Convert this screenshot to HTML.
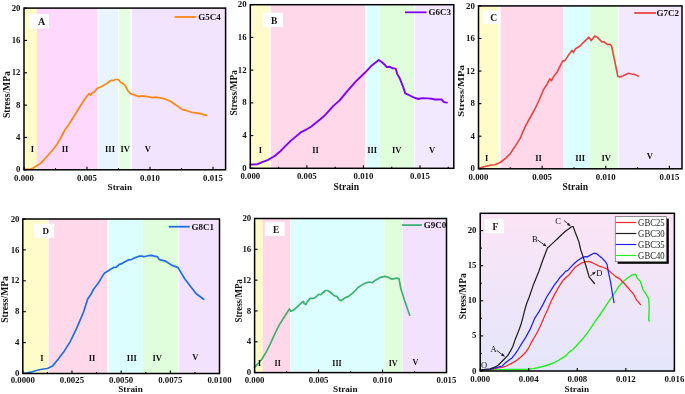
<!DOCTYPE html>
<html><head><meta charset="utf-8"><style>
html,body{margin:0;padding:0;background:#fff;}
body{width:685px;height:394px;overflow:hidden;}
svg{display:block;will-change:transform;}
</style></head><body>
<svg width="685" height="394" viewBox="0 0 685 394">
<rect width="685" height="394" fill="#fff"/>
<rect x="24.0" y="8.1" width="12.90" height="161.70" fill="#FFFCCA"/><rect x="36.9" y="8.1" width="60.80" height="161.70" fill="#FED9FD"/><rect x="98.5" y="8.1" width="19.60" height="161.70" fill="#E8F5FC"/><rect x="119.3" y="8.1" width="11.00" height="161.70" fill="#E4FDE3"/><rect x="131.9" y="8.1" width="93.70" height="161.70" fill="#F3E4FE"/><rect x="28.6" y="14.1" width="20.4" height="14.500000000000002" fill="#fff"/><text x="41.5" y="25.0" text-anchor="middle" font-family='"Liberation Serif", serif' font-weight="bold" font-size="10" fill="#111" >A</text><polyline points="24.1,169.4 29.5,169.2 32.7,168.2 35.9,166.2 40.1,163.6 44.4,159.3 48.7,154.5 52.9,149.7 57.2,143.9 60.4,138.5 63.0,133.5 65.1,129.6 68.9,124.4 72.7,118.3 76.5,112.3 80.3,106.0 84.1,100.2 87.3,95.8 89.2,93.6 90.5,95.2 92.4,92.4 93.7,92.6 96.2,89.4 97.3,88.3 99.6,87.4 102.6,86.0 105.7,84.1 107.6,83.0 109.9,81.0 112.1,80.3 113.3,80.5 115.6,79.5 117.9,79.5 119.0,80.3 120.5,82.2 122.4,83.3 124.7,84.9 126.2,87.5 127.8,90.6 130.0,93.2 132.3,94.5 135.0,95.1 139.0,96.6 142.1,95.9 147.4,96.6 152.7,97.7 155.8,97.1 161.1,98.2 165.7,99.2 170.3,101.2 176.3,105.3 182.4,109.6 187.0,110.7 191.6,112.3 199.2,113.4 206.5,115.4" fill="none" stroke="#FF8514" stroke-width="1.7" stroke-linejoin="round" stroke-linecap="round"/><text x="32.3" y="152.0" text-anchor="middle" font-family='"Liberation Serif", serif' font-weight="bold" font-size="8.5" fill="#111" >I</text><text x="65.0" y="152.0" text-anchor="middle" font-family='"Liberation Serif", serif' font-weight="bold" font-size="8.5" fill="#111" >II</text><text x="110.0" y="152.0" text-anchor="middle" font-family='"Liberation Serif", serif' font-weight="bold" font-size="8.5" fill="#111" >III</text><text x="125.3" y="152.0" text-anchor="middle" font-family='"Liberation Serif", serif' font-weight="bold" font-size="8.5" fill="#111" >IV</text><text x="147.8" y="152.0" text-anchor="middle" font-family='"Liberation Serif", serif' font-weight="bold" font-size="8.5" fill="#111" >V</text><line x1="174.6" y1="17.0" x2="196.2" y2="17.0" stroke="#FF8514" stroke-width="1.8"/><text x="198.3" y="20.1" text-anchor="start" font-family='"Liberation Serif", serif' font-weight="bold" font-size="9" fill="#111" >G5C4</text><g stroke="#000" stroke-width="1.1"><line x1="24.00" y1="169.8" x2="24.00" y2="166.80"/><line x1="87.00" y1="169.8" x2="87.00" y2="166.80"/><line x1="150.00" y1="169.8" x2="150.00" y2="166.80"/><line x1="213.00" y1="169.8" x2="213.00" y2="166.80"/><line x1="55.50" y1="169.8" x2="55.50" y2="168.20"/><line x1="118.50" y1="169.8" x2="118.50" y2="168.20"/><line x1="181.50" y1="169.8" x2="181.50" y2="168.20"/><line x1="24.0" y1="169.80" x2="27.00" y2="169.80"/><line x1="24.0" y1="137.46" x2="27.00" y2="137.46"/><line x1="24.0" y1="105.12" x2="27.00" y2="105.12"/><line x1="24.0" y1="72.78" x2="27.00" y2="72.78"/><line x1="24.0" y1="40.44" x2="27.00" y2="40.44"/><line x1="24.0" y1="8.10" x2="27.00" y2="8.10"/></g><rect x="24.0" y="8.1" width="201.60" height="161.70" fill="none" stroke="#000" stroke-width="1.5"/><g font-family='"Liberation Serif", serif' font-weight="bold" font-size="8.8" fill="#111"><text x="24.00" y="180.6" text-anchor="middle">0.000</text><text x="87.00" y="180.6" text-anchor="middle">0.005</text><text x="150.00" y="180.6" text-anchor="middle">0.010</text><text x="213.00" y="180.6" text-anchor="middle">0.015</text><text x="20.5" y="172.40" text-anchor="end">0</text><text x="20.5" y="140.06" text-anchor="end">4</text><text x="20.5" y="107.72" text-anchor="end">8</text><text x="20.5" y="75.38" text-anchor="end">12</text><text x="20.5" y="43.04" text-anchor="end">16</text><text x="20.5" y="10.70" text-anchor="end">20</text></g><text x="119.8" y="190.2" text-anchor="middle" font-family='"Liberation Serif", serif' font-weight="bold" font-size="9.2" fill="#111" >Strain</text><text x="0" y="0" transform="translate(7.0,94.6) rotate(-90)" text-anchor="middle" dominant-baseline="central" font-family='"Liberation Serif", serif' font-weight="bold" font-size="9.5" fill="#111" textLength="47.0" lengthAdjust="spacingAndGlyphs">Stress/MPa</text><rect x="250.3" y="4.7" width="18.90" height="163.60" fill="#FFFCCA"/><rect x="270.8" y="4.7" width="94.40" height="163.60" fill="#FFD9EA"/><rect x="366.6" y="4.7" width="13.30" height="163.60" fill="#DDFEFE"/><rect x="380.2" y="4.7" width="33.90" height="163.60" fill="#E0FDDC"/><rect x="415.2" y="4.7" width="38.60" height="163.60" fill="#F3E9FE"/><rect x="262.3" y="12.6" width="20.599999999999966" height="14.500000000000002" fill="#fff"/><text x="274.1" y="23.5" text-anchor="middle" font-family='"Liberation Serif", serif' font-weight="bold" font-size="9.5" fill="#111" >B</text><polyline points="250.3,164.5 256.9,164.4 262.2,162.2 267.6,160.1 274.7,156.0 280.0,151.6 285.3,146.2 290.7,140.9 296.0,136.4 301.3,132.0 306.7,129.3 311.1,126.7 315.6,123.1 320.0,119.6 323.6,116.6 326.4,113.7 333.1,106.1 339.7,100.4 346.4,92.2 355.9,81.4 364.8,72.8 372.1,65.2 378.8,59.9 382.2,62.5 384.5,64.5 386.8,67.1 389.8,66.8 392.8,68.3 395.6,68.6 397.1,73.6 399.7,78.2 402.7,85.8 405.3,93.4 409.6,95.4 414.9,98.0 418.7,99.0 421.8,98.1 427.9,98.4 431.7,98.7 434.7,99.5 441.6,99.5 443.9,102.1 446.9,102.6" fill="none" stroke="#7F00FA" stroke-width="1.9" stroke-linejoin="round" stroke-linecap="round"/><text x="260.3" y="152.8" text-anchor="middle" font-family='"Liberation Serif", serif' font-weight="bold" font-size="8.5" fill="#111" >I</text><text x="315.5" y="152.8" text-anchor="middle" font-family='"Liberation Serif", serif' font-weight="bold" font-size="8.5" fill="#111" >II</text><text x="372.2" y="152.8" text-anchor="middle" font-family='"Liberation Serif", serif' font-weight="bold" font-size="8.5" fill="#111" >III</text><text x="396.7" y="152.8" text-anchor="middle" font-family='"Liberation Serif", serif' font-weight="bold" font-size="8.5" fill="#111" >IV</text><text x="432.0" y="152.8" text-anchor="middle" font-family='"Liberation Serif", serif' font-weight="bold" font-size="8.5" fill="#111" >V</text><line x1="405.0" y1="12.3" x2="426.5" y2="12.3" stroke="#7F00FA" stroke-width="1.8"/><text x="428.6" y="15.4" text-anchor="start" font-family='"Liberation Serif", serif' font-weight="bold" font-size="9" fill="#111" >G6C3</text><g stroke="#000" stroke-width="1.1"><line x1="250.30" y1="168.3" x2="250.30" y2="165.30"/><line x1="306.87" y1="168.3" x2="306.87" y2="165.30"/><line x1="363.43" y1="168.3" x2="363.43" y2="165.30"/><line x1="420.00" y1="168.3" x2="420.00" y2="165.30"/><line x1="278.58" y1="168.3" x2="278.58" y2="166.70"/><line x1="335.15" y1="168.3" x2="335.15" y2="166.70"/><line x1="391.72" y1="168.3" x2="391.72" y2="166.70"/><line x1="448.28" y1="168.3" x2="448.28" y2="166.70"/><line x1="250.3" y1="168.30" x2="253.30" y2="168.30"/><line x1="250.3" y1="135.58" x2="253.30" y2="135.58"/><line x1="250.3" y1="102.86" x2="253.30" y2="102.86"/><line x1="250.3" y1="70.14" x2="253.30" y2="70.14"/><line x1="250.3" y1="37.42" x2="253.30" y2="37.42"/><line x1="250.3" y1="4.70" x2="253.30" y2="4.70"/></g><rect x="250.3" y="4.7" width="203.50" height="163.60" fill="none" stroke="#000" stroke-width="1.5"/><g font-family='"Liberation Serif", serif' font-weight="bold" font-size="8.8" fill="#111"><text x="250.30" y="179.2" text-anchor="middle">0.000</text><text x="306.87" y="179.2" text-anchor="middle">0.005</text><text x="363.43" y="179.2" text-anchor="middle">0.010</text><text x="420.00" y="179.2" text-anchor="middle">0.015</text><text x="246.6" y="170.90" text-anchor="end">0</text><text x="246.6" y="138.18" text-anchor="end">4</text><text x="246.6" y="105.46" text-anchor="end">8</text><text x="246.6" y="72.74" text-anchor="end">12</text><text x="246.6" y="40.02" text-anchor="end">16</text><text x="246.6" y="7.30" text-anchor="end">20</text></g><text x="346.2" y="190.0" text-anchor="middle" font-family='"Liberation Serif", serif' font-weight="bold" font-size="9.6" fill="#111" >Strain</text><text x="0" y="0" transform="translate(233.5,92.8) rotate(-90)" text-anchor="middle" dominant-baseline="central" font-family='"Liberation Serif", serif' font-weight="bold" font-size="9.5" fill="#111" textLength="45.6" lengthAdjust="spacingAndGlyphs">Stress/MPa</text><rect x="478.5" y="5.9" width="20.10" height="162.90" fill="#FFFCCA"/><rect x="500.7" y="5.9" width="62.70" height="162.90" fill="#FFD9EA"/><rect x="564.0" y="5.9" width="25.50" height="162.90" fill="#DDFEFE"/><rect x="589.7" y="5.9" width="28.20" height="162.90" fill="#E0FDDC"/><rect x="618.5" y="5.9" width="63.50" height="162.90" fill="#F3E9FE"/><rect x="482.8" y="10.8" width="17.899999999999977" height="13.3" fill="#fff"/><text x="493.6" y="20.8" text-anchor="middle" font-family='"Liberation Serif", serif' font-weight="bold" font-size="9.5" fill="#111" >C</text><polyline points="478.5,168.2 486.2,166.3 491.2,165.0 495.0,164.7 500.1,162.5 505.2,158.7 510.3,153.6 512.8,149.8 516.6,144.1 520.4,137.8 524.2,128.9 526.0,125.1 528.8,120.0 531.6,115.0 534.4,110.0 536.8,105.0 539.4,99.5 541.5,94.5 543.6,89.5 547.1,84.2 549.8,78.9 551.5,80.6 553.3,77.1 556.9,72.6 559.9,66.4 562.7,61.1 564.9,60.6 569.3,54.0 572.0,50.4 573.4,52.7 575.5,48.7 580.0,46.0 583.5,42.4 588.9,37.1 591.2,40.6 594.8,36.0 597.4,37.4 601.9,41.9 604.2,41.9 607.2,44.5 609.9,44.2 611.6,46.0 617.9,76.5 620.5,76.9 628.5,73.3 631.2,74.0 634.7,74.4 638.3,76.2" fill="none" stroke="#EE4242" stroke-width="1.6" stroke-linejoin="round" stroke-linecap="round"/><text x="486.6" y="160.5" text-anchor="middle" font-family='"Liberation Serif", serif' font-weight="bold" font-size="8.5" fill="#111" >I</text><text x="538.5" y="160.5" text-anchor="middle" font-family='"Liberation Serif", serif' font-weight="bold" font-size="8.5" fill="#111" >II</text><text x="580.2" y="160.5" text-anchor="middle" font-family='"Liberation Serif", serif' font-weight="bold" font-size="8.5" fill="#111" >III</text><text x="606.2" y="160.5" text-anchor="middle" font-family='"Liberation Serif", serif' font-weight="bold" font-size="8.5" fill="#111" >IV</text><text x="649.7" y="159.0" text-anchor="middle" font-family='"Liberation Serif", serif' font-weight="bold" font-size="8.5" fill="#111" >V</text><line x1="634.3" y1="13.0" x2="656.0" y2="13.0" stroke="#EE4242" stroke-width="1.8"/><text x="656.5" y="16.1" text-anchor="start" font-family='"Liberation Serif", serif' font-weight="bold" font-size="9" fill="#111" >G7C2</text><g stroke="#000" stroke-width="1.1"><line x1="478.50" y1="168.8" x2="478.50" y2="165.80"/><line x1="542.13" y1="168.8" x2="542.13" y2="165.80"/><line x1="605.77" y1="168.8" x2="605.77" y2="165.80"/><line x1="669.40" y1="168.8" x2="669.40" y2="165.80"/><line x1="510.32" y1="168.8" x2="510.32" y2="167.20"/><line x1="573.95" y1="168.8" x2="573.95" y2="167.20"/><line x1="637.58" y1="168.8" x2="637.58" y2="167.20"/><line x1="478.5" y1="168.80" x2="481.50" y2="168.80"/><line x1="478.5" y1="136.22" x2="481.50" y2="136.22"/><line x1="478.5" y1="103.64" x2="481.50" y2="103.64"/><line x1="478.5" y1="71.06" x2="481.50" y2="71.06"/><line x1="478.5" y1="38.48" x2="481.50" y2="38.48"/><line x1="478.5" y1="5.90" x2="481.50" y2="5.90"/></g><rect x="478.5" y="5.9" width="203.50" height="162.90" fill="none" stroke="#000" stroke-width="1.5"/><g font-family='"Liberation Serif", serif' font-weight="bold" font-size="8.8" fill="#111"><text x="478.50" y="180.0" text-anchor="middle">0.000</text><text x="542.13" y="180.0" text-anchor="middle">0.005</text><text x="605.77" y="180.0" text-anchor="middle">0.010</text><text x="669.40" y="180.0" text-anchor="middle">0.015</text><text x="474.8" y="171.40" text-anchor="end">0</text><text x="474.8" y="138.82" text-anchor="end">4</text><text x="474.8" y="106.24" text-anchor="end">8</text><text x="474.8" y="73.66" text-anchor="end">12</text><text x="474.8" y="41.08" text-anchor="end">16</text><text x="474.8" y="8.50" text-anchor="end">20</text></g><text x="575.2" y="189.8" text-anchor="middle" font-family='"Liberation Serif", serif' font-weight="bold" font-size="9.6" fill="#111" >Strain</text><text x="0" y="0" transform="translate(460.8,91.0) rotate(-90)" text-anchor="middle" dominant-baseline="central" font-family='"Liberation Serif", serif' font-weight="bold" font-size="8.8" fill="#111" textLength="51.5" lengthAdjust="spacingAndGlyphs">Stress/MPa</text><rect x="22.8" y="219.0" width="25.40" height="154.50" fill="#FFFCCA"/><rect x="48.7" y="219.0" width="58.50" height="154.50" fill="#FFD9EA"/><rect x="108.7" y="219.0" width="34.20" height="154.50" fill="#DDFEFE"/><rect x="143.0" y="219.0" width="35.40" height="154.50" fill="#E0FDDC"/><rect x="179.2" y="219.0" width="40.30" height="154.50" fill="#F2E2FE"/><rect x="34.1" y="223.8" width="20.1" height="14.0" fill="#fff"/><text x="45.65" y="234.2" text-anchor="middle" font-family='"Liberation Serif", serif' font-weight="bold" font-size="9" fill="#111" >D</text><polyline points="22.8,373.0 27.0,372.8 31.0,372.2 35.5,370.8 40.5,369.5 47.2,368.5 52.7,365.9 58.1,359.3 63.6,352.1 70.1,341.9 76.7,328.1 83.2,312.9 87.7,299.1 91.1,294.1 93.4,289.5 98.0,283.5 100.9,278.9 102.6,275.8 104.4,273.2 107.9,271.0 111.4,268.8 114.0,267.3 115.8,267.5 119.3,264.4 121.9,263.6 125.4,261.6 128.9,259.8 131.5,259.5 135.0,257.7 139.4,256.1 142.0,256.1 143.8,256.8 148.2,255.7 151.7,255.4 154.3,256.1 157.4,256.6 158.7,258.8 160.0,259.8 165.7,261.2 171.5,265.1 178.1,267.6 184.7,278.8 190.4,286.3 196.2,293.7 203.7,299.2" fill="none" stroke="#1F6FE0" stroke-width="1.7" stroke-linejoin="round" stroke-linecap="round"/><text x="41.9" y="360.5" text-anchor="middle" font-family='"Liberation Serif", serif' font-weight="bold" font-size="8.5" fill="#111" >I</text><text x="92.1" y="360.5" text-anchor="middle" font-family='"Liberation Serif", serif' font-weight="bold" font-size="8.5" fill="#111" >II</text><text x="131.8" y="360.5" text-anchor="middle" font-family='"Liberation Serif", serif' font-weight="bold" font-size="8.5" fill="#111" >III</text><text x="157.2" y="360.5" text-anchor="middle" font-family='"Liberation Serif", serif' font-weight="bold" font-size="8.5" fill="#111" >IV</text><text x="195.2" y="359.6" text-anchor="middle" font-family='"Liberation Serif", serif' font-weight="bold" font-size="8.5" fill="#111" >V</text><line x1="168.7" y1="226.7" x2="189.7" y2="226.7" stroke="#1F6FE0" stroke-width="1.8"/><text x="191.5" y="229.79999999999998" text-anchor="start" font-family='"Liberation Serif", serif' font-weight="bold" font-size="9" fill="#111" >G8C1</text><g stroke="#000" stroke-width="1.1"><line x1="22.80" y1="373.5" x2="22.80" y2="370.50"/><line x1="71.97" y1="373.5" x2="71.97" y2="370.50"/><line x1="121.15" y1="373.5" x2="121.15" y2="370.50"/><line x1="170.33" y1="373.5" x2="170.33" y2="370.50"/><line x1="219.50" y1="373.5" x2="219.50" y2="370.50"/><line x1="47.39" y1="373.5" x2="47.39" y2="371.90"/><line x1="96.56" y1="373.5" x2="96.56" y2="371.90"/><line x1="145.74" y1="373.5" x2="145.74" y2="371.90"/><line x1="194.91" y1="373.5" x2="194.91" y2="371.90"/><line x1="22.8" y1="373.50" x2="25.80" y2="373.50"/><line x1="22.8" y1="342.60" x2="25.80" y2="342.60"/><line x1="22.8" y1="311.70" x2="25.80" y2="311.70"/><line x1="22.8" y1="280.80" x2="25.80" y2="280.80"/><line x1="22.8" y1="249.90" x2="25.80" y2="249.90"/><line x1="22.8" y1="219.00" x2="25.80" y2="219.00"/></g><rect x="22.8" y="219.0" width="196.70" height="154.50" fill="none" stroke="#000" stroke-width="1.5"/><g font-family='"Liberation Serif", serif' font-weight="bold" font-size="8.8" fill="#111"><text x="22.80" y="383.0" text-anchor="middle">0.0000</text><text x="71.97" y="383.0" text-anchor="middle">0.0025</text><text x="121.15" y="383.0" text-anchor="middle">0.0050</text><text x="170.33" y="383.0" text-anchor="middle">0.0075</text><text x="219.50" y="383.0" text-anchor="middle">0.0100</text><text x="19.5" y="376.10" text-anchor="end">0</text><text x="19.5" y="345.20" text-anchor="end">4</text><text x="19.5" y="314.30" text-anchor="end">8</text><text x="19.5" y="283.40" text-anchor="end">12</text><text x="19.5" y="252.50" text-anchor="end">16</text><text x="19.5" y="221.60" text-anchor="end">20</text></g><text x="130.5" y="392.3" text-anchor="middle" font-family='"Liberation Serif", serif' font-weight="bold" font-size="9.2" fill="#111" >Strain</text><text x="0" y="0" transform="translate(5.2,299.5) rotate(-90)" text-anchor="middle" dominant-baseline="central" font-family='"Liberation Serif", serif' font-weight="bold" font-size="9.5" fill="#111" textLength="46.7" lengthAdjust="spacingAndGlyphs">Stress/MPa</text><rect x="254.6" y="218.5" width="8.00" height="154.10" fill="#FFFCCA"/><rect x="262.6" y="218.5" width="27.70" height="154.10" fill="#FFD9EA"/><rect x="290.9" y="218.5" width="93.30" height="154.10" fill="#DDFEFE"/><rect x="384.4" y="218.5" width="18.00" height="154.10" fill="#E0FDDC"/><rect x="403.0" y="218.5" width="43.50" height="154.10" fill="#F2E2FE"/><rect x="264.9" y="222.0" width="19.80000000000001" height="14.0" fill="#fff"/><text x="276.1" y="232.6" text-anchor="middle" font-family='"Liberation Serif", serif' font-weight="bold" font-size="9.3" fill="#111" >E</text><polyline points="254.6,367.4 257.5,364.1 261.8,359.3 266.2,352.1 270.5,343.4 274.9,333.6 279.3,324.9 284.7,316.2 289.4,309.0 290.8,311.2 293.9,309.9 298.3,305.9 301.4,302.8 303.6,301.4 304.1,303.6 305.9,304.5 307.6,301.4 310.3,298.3 314.3,298.1 316.5,296.5 318.7,294.3 320.5,294.8 323.2,292.5 325.4,290.5 327.6,290.5 331.2,293.0 334.5,295.8 337.2,296.6 339.1,299.8 341.0,300.7 345.4,297.6 348.6,296.4 353.0,292.8 358.1,287.5 362.6,284.6 366.4,282.7 369.5,282.0 372.1,282.7 375.9,279.9 380.3,277.4 384.8,276.4 388.3,277.4 391.9,279.2 396.4,278.1 399.0,278.7 400.8,288.5 404.4,300.0 409.7,315.2" fill="none" stroke="#3FB070" stroke-width="1.7" stroke-linejoin="round" stroke-linecap="round"/><text x="259.6" y="365.5" text-anchor="middle" font-family='"Liberation Serif", serif' font-weight="bold" font-size="8.0" fill="#111" >I</text><text x="277.7" y="365.5" text-anchor="middle" font-family='"Liberation Serif", serif' font-weight="bold" font-size="8.0" fill="#111" >II</text><text x="337.0" y="365.5" text-anchor="middle" font-family='"Liberation Serif", serif' font-weight="bold" font-size="8.0" fill="#111" >III</text><text x="393.1" y="365.5" text-anchor="middle" font-family='"Liberation Serif", serif' font-weight="bold" font-size="8.0" fill="#111" >IV</text><text x="415.5" y="364.6" text-anchor="middle" font-family='"Liberation Serif", serif' font-weight="bold" font-size="8.0" fill="#111" >V</text><line x1="402.0" y1="225.1" x2="421.9" y2="225.1" stroke="#3FB070" stroke-width="1.8"/><text x="423.8" y="228.2" text-anchor="start" font-family='"Liberation Serif", serif' font-weight="bold" font-size="9" fill="#111" >G9C0</text><g stroke="#000" stroke-width="1.1"><line x1="254.60" y1="372.6" x2="254.60" y2="369.60"/><line x1="318.57" y1="372.6" x2="318.57" y2="369.60"/><line x1="382.53" y1="372.6" x2="382.53" y2="369.60"/><line x1="446.50" y1="372.6" x2="446.50" y2="369.60"/><line x1="286.58" y1="372.6" x2="286.58" y2="371.00"/><line x1="350.55" y1="372.6" x2="350.55" y2="371.00"/><line x1="414.52" y1="372.6" x2="414.52" y2="371.00"/><line x1="254.6" y1="372.60" x2="257.60" y2="372.60"/><line x1="254.6" y1="341.78" x2="257.60" y2="341.78"/><line x1="254.6" y1="310.96" x2="257.60" y2="310.96"/><line x1="254.6" y1="280.14" x2="257.60" y2="280.14"/><line x1="254.6" y1="249.32" x2="257.60" y2="249.32"/><line x1="254.6" y1="218.50" x2="257.60" y2="218.50"/></g><rect x="254.6" y="218.5" width="191.90" height="154.10" fill="none" stroke="#000" stroke-width="1.5"/><g font-family='"Liberation Serif", serif' font-weight="bold" font-size="8.8" fill="#111"><text x="254.60" y="383.0" text-anchor="middle">0.000</text><text x="318.57" y="383.0" text-anchor="middle">0.005</text><text x="382.53" y="383.0" text-anchor="middle">0.010</text><text x="446.50" y="383.0" text-anchor="middle">0.015</text><text x="251.2" y="375.20" text-anchor="end">0</text><text x="251.2" y="344.38" text-anchor="end">4</text><text x="251.2" y="313.56" text-anchor="end">8</text><text x="251.2" y="282.74" text-anchor="end">12</text><text x="251.2" y="251.92" text-anchor="end">16</text><text x="251.2" y="221.10" text-anchor="end">20</text></g><text x="345.3" y="392.2" text-anchor="middle" font-family='"Liberation Serif", serif' font-weight="bold" font-size="9.2" fill="#111" >Strain</text><text x="0" y="0" transform="translate(238.7,300.85) rotate(-90)" text-anchor="middle" dominant-baseline="central" font-family='"Liberation Serif", serif' font-weight="bold" font-size="9.5" fill="#111" textLength="43.3" lengthAdjust="spacingAndGlyphs">Stress/MPa</text><defs><linearGradient id="gF" x1="0" y1="0" x2="0" y2="1"><stop offset="0" stop-color="#FCE4F6"/><stop offset="1" stop-color="#E4E6FB"/></linearGradient></defs><rect x="480.2" y="213.3" width="194.2" height="157.7" fill="url(#gF)"/><rect x="484.6" y="219.2" width="19.5" height="14.0" fill="#fff"/><text x="495.4" y="229.9" text-anchor="middle" font-family='"Liberation Serif", serif' font-weight="bold" font-size="9.3" fill="#111" >F</text><polyline points="480.5,369.8 500.0,369.6 520.0,369.5 528.3,369.3 533.1,368.6 537.5,367.8 542.8,366.5 548.0,365.0 553.3,363.0 558.5,360.3 562.9,357.7 566.4,355.3 569.0,352.4 572.5,349.8 576.0,346.3 579.3,342.4 583.9,337.5 589.4,330.2 594.8,321.9 599.4,315.5 605.0,307.1 610.0,299.7 614.1,293.9 618.2,287.3 623.2,281.5 627.3,278.2 631.4,275.2 635.5,274.1 637.2,278.2 640.5,281.5 643.0,289.8 645.4,293.1 648.7,298.8 649.2,307.9 648.7,319.5 649.2,321.1" fill="none" stroke="#22EE22" stroke-width="1.4" stroke-linejoin="round" stroke-linecap="round"/><polyline points="480.8,370.0 490.0,369.6 498.1,368.0 503.0,367.2 506.3,366.0 511.1,363.6 516.8,360.3 521.7,356.3 525.8,352.2 529.0,347.3 531.7,341.9 536.5,333.8 540.3,326.2 544.1,317.3 547.9,309.0 551.0,301.5 554.1,295.4 557.1,289.9 560.1,284.8 563.2,280.2 566.2,277.2 569.3,274.7 572.3,270.6 575.3,267.1 578.4,265.0 581.2,263.2 585.2,261.9 588.3,261.4 592.3,262.7 596.4,264.7 599.4,266.2 603.5,267.5 606.5,268.8 610.0,271.6 615.7,276.6 619.9,279.0 624.8,284.0 629.8,289.8 633.9,294.7 636.4,299.7 640.5,304.6" fill="none" stroke="#FF2222" stroke-width="1.25" stroke-linejoin="round" stroke-linecap="round"/><polyline points="480.8,369.8 490.0,369.3 498.1,367.2 502.2,366.0 504.6,363.6 508.7,360.3 512.0,357.9 515.2,353.8 518.0,349.8 521.5,343.9 526.0,336.9 529.8,329.9 535.0,317.8 539.0,311.6 542.9,304.6 546.7,297.0 550.0,291.9 554.1,285.3 558.1,280.2 560.1,277.2 563.2,274.2 565.7,271.1 567.7,270.6 570.3,267.6 573.3,264.5 575.3,262.5 578.1,260.2 582.2,257.6 585.2,256.6 587.3,256.9 590.3,255.1 593.9,253.2 596.4,253.6 599.4,256.1 602.5,258.6 605.0,261.2 607.1,264.5 608.3,271.6 610.8,283.2 612.4,293.9 614.1,302.6" fill="none" stroke="#2222FF" stroke-width="1.25" stroke-linejoin="round" stroke-linecap="round"/><polyline points="480.8,369.9 490.0,368.9 494.9,367.2 498.1,365.2 501.4,362.0 504.6,358.7 507.9,355.4 510.7,350.6 512.8,346.5 515.2,339.4 518.3,331.8 520.9,324.8 522.8,317.8 524.7,310.2 526.6,303.8 529.5,296.3 533.3,285.1 538.7,271.8 543.1,259.3 547.6,247.8 549.3,246.4 554.1,241.9 557.7,238.5 561.6,234.7 565.4,231.3 569.3,228.4 571.2,226.9 573.1,226.5 573.6,227.9 576.0,234.2 578.9,241.9 580.8,250.0 583.2,257.1 585.7,265.2 587.8,272.3 589.3,277.4 590.3,278.4 594.4,283.5" fill="none" stroke="#222222" stroke-width="1.25" stroke-linejoin="round" stroke-linecap="round"/><text x="493.6" y="351.8" text-anchor="middle" font-family='"Liberation Serif", serif' font-weight="normal" font-size="8.5" fill="#111" >A</text><line x1="496.8" y1="350.4" x2="501.8" y2="354.3" stroke="#222" stroke-width="0.9"/><polygon points="505.0,356.7 500.9,355.5 502.7,353.1" fill="#222"/><text x="534.8" y="242.4" text-anchor="middle" font-family='"Liberation Serif", serif' font-weight="normal" font-size="8.5" fill="#111" >B</text><line x1="537.6" y1="240.0" x2="543.5" y2="244.3" stroke="#222" stroke-width="0.9"/><polygon points="546.8,246.6 542.7,245.5 544.4,243.0" fill="#222"/><text x="558.2" y="223.8" text-anchor="middle" font-family='"Liberation Serif", serif' font-weight="normal" font-size="8.5" fill="#111" >C</text><line x1="564.0" y1="220.5" x2="567.9" y2="223.8" stroke="#222" stroke-width="0.9"/><polygon points="570.9,226.4 566.9,224.9 568.8,222.7" fill="#222"/><text x="599.4" y="275.9" text-anchor="middle" font-family='"Liberation Serif", serif' font-weight="normal" font-size="8.5" fill="#111" >D</text><line x1="590.3" y1="276.0" x2="592.9" y2="273.9" stroke="#222" stroke-width="0.9"/><polygon points="596.0,271.4 593.8,275.1 591.9,272.7" fill="#222"/><text x="484.1" y="368.0" text-anchor="middle" font-family='"Liberation Serif", serif' font-weight="normal" font-size="8.5" fill="#111" >O</text><rect x="617.6" y="218.6" width="51.2" height="45.2" fill="#000"/><rect x="615.3" y="216.6" width="51.0" height="45.1" fill="#fff" stroke="#777" stroke-width="0.8"/><line x1="615.8" y1="222.5" x2="636.3" y2="222.5" stroke="#FF2222" stroke-width="1.2"/><text x="638.1" y="225.8" font-family='"Liberation Serif", serif' font-size="9.4" fill="#1a1a1a" textLength="26.6" lengthAdjust="spacingAndGlyphs">GBC25</text><line x1="615.8" y1="233.5" x2="636.3" y2="233.5" stroke="#222222" stroke-width="1.2"/><text x="638.1" y="236.8" font-family='"Liberation Serif", serif' font-size="9.4" fill="#1a1a1a" textLength="26.6" lengthAdjust="spacingAndGlyphs">GBC30</text><line x1="615.8" y1="244.5" x2="636.3" y2="244.5" stroke="#2222FF" stroke-width="1.2"/><text x="638.1" y="247.8" font-family='"Liberation Serif", serif' font-size="9.4" fill="#1a1a1a" textLength="26.6" lengthAdjust="spacingAndGlyphs">GBC35</text><line x1="615.8" y1="255.5" x2="636.3" y2="255.5" stroke="#22EE22" stroke-width="1.2"/><text x="638.1" y="258.8" font-family='"Liberation Serif", serif' font-size="9.4" fill="#1a1a1a" textLength="26.6" lengthAdjust="spacingAndGlyphs">GBC40</text><g stroke="#000" stroke-width="1.1"><line x1="480.20" y1="371.0" x2="480.20" y2="368.00"/><line x1="528.75" y1="371.0" x2="528.75" y2="368.00"/><line x1="577.30" y1="371.0" x2="577.30" y2="368.00"/><line x1="625.85" y1="371.0" x2="625.85" y2="368.00"/><line x1="674.40" y1="371.0" x2="674.40" y2="368.00"/><line x1="480.2" y1="371.00" x2="483.20" y2="371.00"/><line x1="480.2" y1="335.90" x2="483.20" y2="335.90"/><line x1="480.2" y1="300.80" x2="483.20" y2="300.80"/><line x1="480.2" y1="265.70" x2="483.20" y2="265.70"/><line x1="480.2" y1="230.60" x2="483.20" y2="230.60"/><line x1="480.2" y1="353.45" x2="481.80" y2="353.45"/><line x1="480.2" y1="318.35" x2="481.80" y2="318.35"/><line x1="480.2" y1="283.25" x2="481.80" y2="283.25"/><line x1="480.2" y1="248.15" x2="481.80" y2="248.15"/></g><rect x="480.2" y="213.3" width="194.20" height="157.70" fill="none" stroke="#000" stroke-width="1.5"/><g font-family='"Liberation Serif", serif' font-weight="bold" font-size="8.8" fill="#111"><text x="480.20" y="382.0" text-anchor="middle">0.000</text><text x="528.75" y="382.0" text-anchor="middle">0.004</text><text x="577.30" y="382.0" text-anchor="middle">0.008</text><text x="625.85" y="382.0" text-anchor="middle">0.012</text><text x="674.40" y="382.0" text-anchor="middle">0.016</text><text x="476.5" y="373.50" text-anchor="end">0</text><text x="476.5" y="338.40" text-anchor="end">5</text><text x="476.5" y="303.30" text-anchor="end">10</text><text x="476.5" y="268.20" text-anchor="end">15</text><text x="476.5" y="233.10" text-anchor="end">20</text></g><text x="576.8" y="392.2" text-anchor="middle" font-family='"Liberation Serif", serif' font-weight="bold" font-size="9.2" fill="#111" >Strain</text><text x="0" y="0" transform="translate(462.7,296.3) rotate(-90)" text-anchor="middle" dominant-baseline="central" font-family='"Liberation Serif", serif' font-weight="bold" font-size="9.5" fill="#111" textLength="45.8" lengthAdjust="spacingAndGlyphs">Stress/MPa</text>
</svg>
</body></html>
